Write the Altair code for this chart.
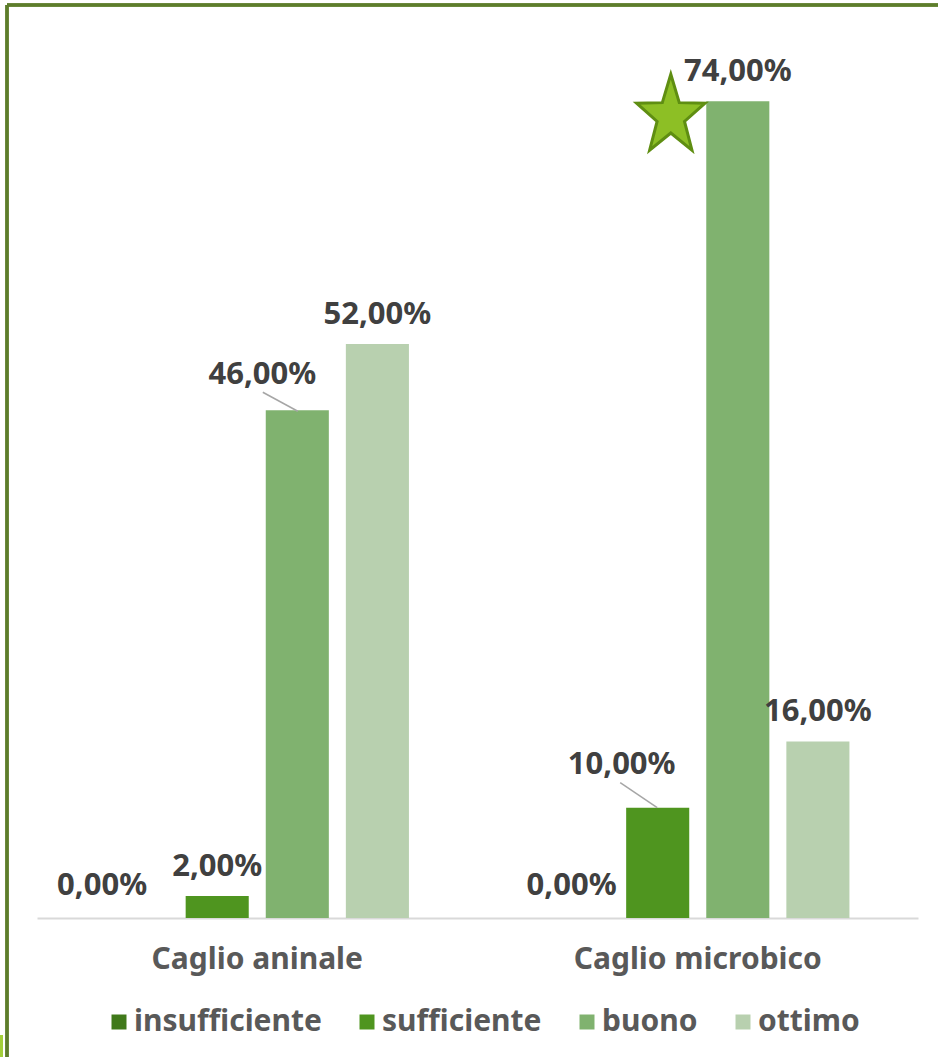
import math
import altair as alt
import pandas as pd

# ---- data ----
categories = ["Caglio aninale", "Caglio microbico"]
series = ["insufficiente", "sufficiente", "buono", "ottimo"]
values_aninale = [0, 2, 46, 52]
values_microbico = [0, 10, 74, 16]
colors = ["#40791a", "#4f951f", "#80b26f", "#b8d0af"]

rows = []
for cat, vals in zip(categories, [values_aninale, values_microbico]):
    for s, v in zip(series, vals):
        rows.append({"cat": cat, "serie": s, "val": v})
df = pd.DataFrame(rows)

FONT = "Noto Sans"
FS_VAL = 31
FS_AX = 30
VAL_COLOR = "#404040"
AX_COLOR = "#595959"

base = alt.Chart(df).transform_calculate(
    label="replace(format(datum.val, '.2f'), '.', ',') + '%'"
)

x_enc = alt.X("cat:N", sort=categories, title=None,
              scale=alt.Scale(paddingInner=0, paddingOuter=0),
              axis=alt.Axis(labelAngle=0, ticks=False, domainColor="#d9d9d9",
                            domainWidth=2, labelFont=FONT, labelFontSize=FS_AX,
                            labelFontWeight="bold", labelColor=AX_COLOR,
                            labelPadding=26, labelLimit=0, grid=False))
xo_enc = alt.XOffset("serie:N", sort=series,
                     scale=alt.Scale(domain=series, paddingInner=0.2125, paddingOuter=0.856))
y_enc = alt.Y("val:Q", axis=None, scale=alt.Scale(domain=[0, 80], nice=False, zero=True))

bars = base.mark_bar().encode(
    x=x_enc, xOffset=xo_enc, y=y_enc,
    color=alt.Color("serie:N", sort=series,
                    scale=alt.Scale(domain=series, range=colors),
                    legend=alt.Legend(title=None, orient="none", direction="horizontal",
                                      legendX=67, legendY=972, symbolType="square",
                                      symbolSize=225, symbolStrokeWidth=0,
                                      labelFont=FONT, labelFontSize=FS_AX,
                                      labelFontWeight="bold", labelColor=AX_COLOR,
                                      labelLimit=0, columnPadding=30, labelOffset=0,
                                      padding=0)),
)

def text_layer(filt, dx, dy):
    return base.transform_filter(filt).mark_text(
        font=FONT, fontSize=FS_VAL, fontWeight="bold", color=VAL_COLOR,
        baseline="middle", align="center", dx=dx, dy=dy,
    ).encode(x=x_enc, xOffset=xo_enc, y=y_enc, text="label:N")

t_default = text_layer("datum.val > 0 && !((datum.cat == 'Caglio aninale' && datum.serie == 'buono') || (datum.cat == 'Caglio microbico' && datum.serie == 'sufficiente'))", 0, -29)
t_zero1 = text_layer("datum.val == 0 && datum.cat == 'Caglio aninale'", -35, -32)
t_zero2 = text_layer("datum.val == 0 && datum.cat == 'Caglio microbico'", -6, -32)
t_46 = text_layer("datum.cat == 'Caglio aninale' && datum.serie == 'buono'", -35, -35)
t_10 = text_layer("datum.cat == 'Caglio microbico' && datum.serie == 'sufficiente'", -36, -43)

# leader lines (custom symbol path, size 4 -> pixel units)
def leader(filt, path):
    return base.transform_filter(filt).mark_point(
        shape=path, size=4, filled=False, stroke="#a6a6a6", strokeWidth=1.5, opacity=1
    ).encode(x=x_enc, xOffset=xo_enc, y=y_enc)

l_46 = leader("datum.cat == 'Caglio aninale' && datum.serie == 'buono'", "M0.5,1L-34.5,-18")
l_10 = leader("datum.cat == 'Caglio microbico' && datum.serie == 'sufficiente'", "M-0.5,0L-37.5,-25")

# star decoration next to the 74% bar
cx, cy, Rx, Ry, k = -67, 15, 36, 42, 0.40
pts = []
for i in range(10):
    a = math.radians(-90 + 36 * i)
    f = 1 if i % 2 == 0 else k
    pts.append(f"{cx + Rx * f * math.cos(a):.2f},{cy + Ry * f * math.sin(a):.2f}")
star_path = "M" + "L".join(pts) + "Z"
star = base.transform_filter("datum.cat == 'Caglio microbico' && datum.serie == 'buono'").mark_point(
    shape=star_path, size=4, filled=True, fill="#8dbf25", stroke="#5f8e12", strokeWidth=3, opacity=1
).encode(x=x_enc, xOffset=xo_enc, y=y_enc)

# frame lines (slide border)
border_left = alt.Chart(df).mark_rule(color="#5d7d2b", strokeWidth=2.5).encode(
    x=alt.value(-30), y=alt.value(-30), y2=alt.value(1030))
border_top = alt.Chart(df).mark_rule(color="#5d7d2b", strokeWidth=2.5).encode(
    x=alt.value(-30), x2=alt.value(905), y=alt.value(-30))
sliver = alt.Chart(df).mark_rule(color="#a3cf3a", strokeWidth=3).encode(
    x=alt.value(-36), y=alt.value(1000), y2=alt.value(1030))

chart = alt.layer(
    border_left, border_top, sliver, bars, l_46, l_10, star,
    t_default, t_zero1, t_zero2, t_46, t_10,
).properties(
    width=881, height=883,
    padding={"left": 37, "top": 35, "right": 20, "bottom": 139},
    autosize=alt.AutoSizeParams(type="none"),
    background="white",
).configure_view(stroke=None)

chart.save("out.html", embed_options={"renderer": "svg", "actions": False})
